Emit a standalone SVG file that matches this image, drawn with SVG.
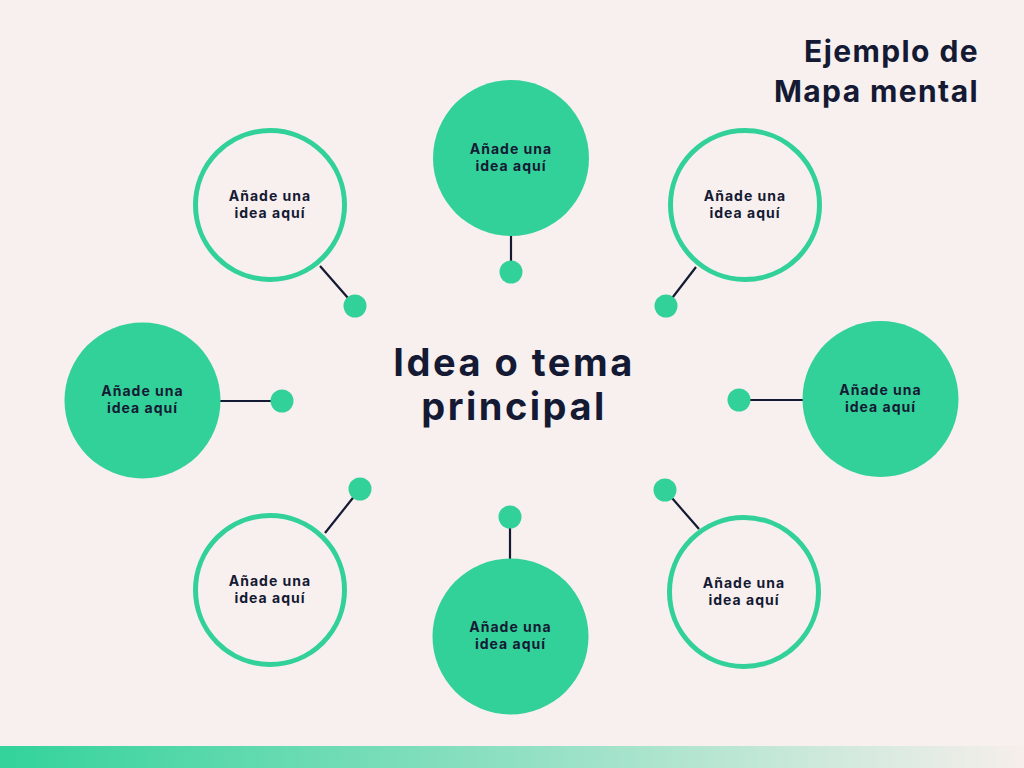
<svg xmlns="http://www.w3.org/2000/svg" width="1024" height="768" viewBox="0 0 1024 768">
  <defs>
    <linearGradient id="bar" x1="0" y1="0" x2="1" y2="0">
      <stop offset="0" stop-color="#33d39b"/>
      <stop offset="0.5" stop-color="#8fe0c2"/>
      <stop offset="1" stop-color="#f6eeeb"/>
    </linearGradient>
    <style>
      .bg{fill:#f8f0ef}
      .fill{fill:#33d19a}
      .ring{fill:none;stroke:#33d19a;stroke-width:5}
      .dot{fill:#33d19a}
      .link{stroke:#141a33;stroke-width:2.2;fill:none}
      .lbl{font-family:Inter,"Liberation Sans",sans-serif;font-weight:700;font-size:14px;letter-spacing:1px;fill:#141a33;text-anchor:middle}
      .main{font-family:Inter,"Liberation Sans",sans-serif;font-weight:700;font-size:38px;letter-spacing:2.5px;fill:#141a33;text-anchor:middle}
      .title{font-family:Inter,"Liberation Sans",sans-serif;font-weight:700;font-size:30px;letter-spacing:1.4px;fill:#141a33;text-anchor:end}
    </style>
  </defs>
  <rect class="bg" x="0" y="0" width="1024" height="768"/>
  <rect x="0" y="746" width="1024" height="22" fill="url(#bar)"/>

  <g id="title">
    <text class="title" x="979" y="62">Ejemplo de</text>
    <text class="title" x="979" y="102">Mapa mental</text>
  </g>

  <g id="connectors">
    <line class="link" x1="320" y1="266" x2="355" y2="306"/>
    <line class="link" x1="511" y1="236" x2="511" y2="272"/>
    <line class="link" x1="696" y1="267" x2="666" y2="306"/>
    <line class="link" x1="220" y1="401" x2="282" y2="401"/>
    <line class="link" x1="739" y1="400" x2="803" y2="400"/>
    <line class="link" x1="325" y1="533" x2="360" y2="489"/>
    <line class="link" x1="510" y1="517" x2="510" y2="559"/>
    <line class="link" x1="665" y1="490" x2="699" y2="529"/>
  </g>

  <g id="dots">
    <circle class="dot" cx="355" cy="306" r="11.5"/>
    <circle class="dot" cx="511" cy="272" r="11.5"/>
    <circle class="dot" cx="666" cy="306" r="11.5"/>
    <circle class="dot" cx="282" cy="401" r="11.5"/>
    <circle class="dot" cx="739" cy="400" r="11.5"/>
    <circle class="dot" cx="360" cy="489" r="11.5"/>
    <circle class="dot" cx="510" cy="517" r="11.5"/>
    <circle class="dot" cx="665" cy="490" r="11.5"/>
  </g>

  <g id="center">
    <text class="main" x="514" y="376">Idea o tema</text>
    <text class="main" x="514" y="420">principal</text>
  </g>

  <g id="node-tl">
    <circle class="ring" cx="270" cy="205" r="74.5"/>
    <text class="lbl" x="270" y="201">Añade una</text>
    <text class="lbl" x="270" y="218">idea aquí</text>
  </g>
  <g id="node-t">
    <circle class="fill" cx="511" cy="158" r="78"/>
    <text class="lbl" x="511" y="154">Añade una</text>
    <text class="lbl" x="511" y="171">idea aquí</text>
  </g>
  <g id="node-tr">
    <circle class="ring" cx="745" cy="205" r="74.5"/>
    <text class="lbl" x="745" y="201">Añade una</text>
    <text class="lbl" x="745" y="218">idea aquí</text>
  </g>
  <g id="node-l">
    <circle class="fill" cx="142.5" cy="400.5" r="78"/>
    <text class="lbl" x="142.5" y="396">Añade una</text>
    <text class="lbl" x="142.5" y="413">idea aquí</text>
  </g>
  <g id="node-r">
    <circle class="fill" cx="880.5" cy="399" r="78"/>
    <text class="lbl" x="880.5" y="395">Añade una</text>
    <text class="lbl" x="880.5" y="412">idea aquí</text>
  </g>
  <g id="node-bl">
    <circle class="ring" cx="270" cy="590" r="74.5"/>
    <text class="lbl" x="270" y="586">Añade una</text>
    <text class="lbl" x="270" y="603">idea aquí</text>
  </g>
  <g id="node-b">
    <circle class="fill" cx="510.5" cy="636.5" r="78"/>
    <text class="lbl" x="510.5" y="632">Añade una</text>
    <text class="lbl" x="510.5" y="649">idea aquí</text>
  </g>
  <g id="node-br">
    <circle class="ring" cx="744" cy="592" r="74.5"/>
    <text class="lbl" x="744" y="588">Añade una</text>
    <text class="lbl" x="744" y="605">idea aquí</text>
  </g>
</svg>
